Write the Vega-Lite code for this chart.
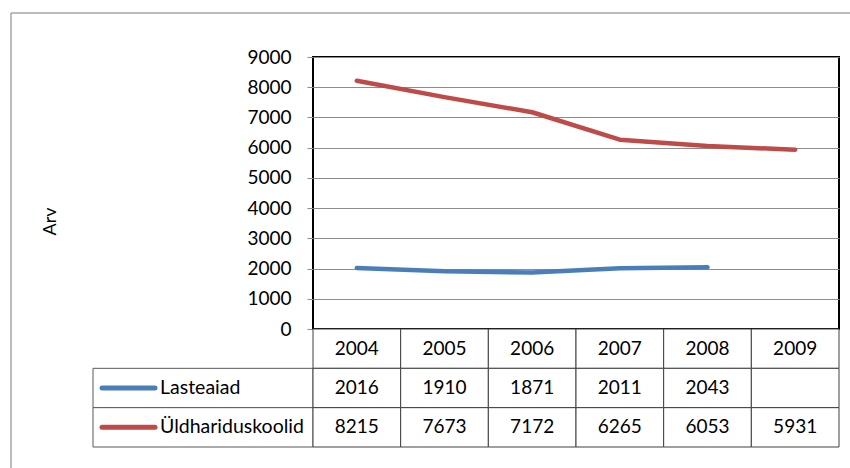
{
  "$schema": "https://vega.github.io/schema/vega-lite/v6.json",
  "background": "white",
  "padding": {"left": 10, "top": 12, "right": 0, "bottom": 0},
  "autosize": {"type": "pad"},
  "config": {
    "view": {"stroke": null},
    "font": "Lato",
    "text": {"font": "Lato"},
    "axis": {"labelFont": "Lato", "titleFont": "Lato"}
  },
  "datasets": {
    "series": [
      {"year": "2004", "series": "Lasteaiad", "value": 2016},
      {"year": "2005", "series": "Lasteaiad", "value": 1910},
      {"year": "2006", "series": "Lasteaiad", "value": 1871},
      {"year": "2007", "series": "Lasteaiad", "value": 2011},
      {"year": "2008", "series": "Lasteaiad", "value": 2043},
      {"year": "2004", "series": "Üldhariduskoolid", "value": 8215},
      {"year": "2005", "series": "Üldhariduskoolid", "value": 7673},
      {"year": "2006", "series": "Üldhariduskoolid", "value": 7172},
      {"year": "2007", "series": "Üldhariduskoolid", "value": 6265},
      {"year": "2008", "series": "Üldhariduskoolid", "value": 6053},
      {"year": "2009", "series": "Üldhariduskoolid", "value": 5931}
    ],
    "cells": [
      {"row": "header", "year": "2004", "text": "2004"},
      {"row": "header", "year": "2005", "text": "2005"},
      {"row": "header", "year": "2006", "text": "2006"},
      {"row": "header", "year": "2007", "text": "2007"},
      {"row": "header", "year": "2008", "text": "2008"},
      {"row": "header", "year": "2009", "text": "2009"},
      {"row": "Lasteaiad", "year": "2004", "text": "2016"},
      {"row": "Lasteaiad", "year": "2005", "text": "1910"},
      {"row": "Lasteaiad", "year": "2006", "text": "1871"},
      {"row": "Lasteaiad", "year": "2007", "text": "2011"},
      {"row": "Lasteaiad", "year": "2008", "text": "2043"},
      {"row": "Lasteaiad", "year": "2009", "text": ""},
      {"row": "Üldhariduskoolid", "year": "2004", "text": "8215"},
      {"row": "Üldhariduskoolid", "year": "2005", "text": "7673"},
      {"row": "Üldhariduskoolid", "year": "2006", "text": "7172"},
      {"row": "Üldhariduskoolid", "year": "2007", "text": "6265"},
      {"row": "Üldhariduskoolid", "year": "2008", "text": "6053"},
      {"row": "Üldhariduskoolid", "year": "2009", "text": "5931"}
    ],
    "legendRows": [
      {"series": "Lasteaiad"},
      {"series": "Üldhariduskoolid"}
    ]
  },
  "columns": 2,
  "spacing": 0,
  "bounds": "flush",
  "concat": [
    {
      "width": 220,
      "height": 272,
      "data": {"values": [{"frame": "chart area"}]},
      "layer": [
        {
          "mark": {"type": "rule", "stroke": "#7a7a7a", "strokeWidth": 1},
          "encoding": {"x": {"value": -82}, "x2": {"value": 758}, "y": {"value": -44}}
        },
        {
          "mark": {"type": "rule", "stroke": "#7a7a7a", "strokeWidth": 1},
          "encoding": {"x": {"value": -82}, "y": {"value": -44}, "y2": {"value": 412}}
        }
      ]
    },
    {
      "width": 526,
      "height": 272,
      "data": {"name": "series"},
      "view": {"stroke": "black", "strokeWidth": 2},
      "mark": {"type": "line", "strokeWidth": 4.5, "strokeCap": "round", "strokeJoin": "round"},
      "encoding": {
        "x": {
          "field": "year",
          "type": "ordinal",
          "scale": {"type": "point", "padding": 0.5, "domain": ["2004", "2005", "2006", "2007", "2008", "2009"]},
          "axis": null
        },
        "y": {
          "field": "value",
          "type": "quantitative",
          "scale": {"domain": [0, 9000], "nice": false},
          "axis": {
            "values": [0, 1000, 2000, 3000, 4000, 5000, 6000, 7000, 8000, 9000],
            "format": "d",
            "title": "Arv",
            "titleFontWeight": "normal",
            "titleFontSize": 18,
            "titleColor": "black",
            "titleX": -263,
            "titleY": 164,
            "titleAlign": "center",
            "titleBaseline": "middle",
            "grid": true,
            "gridColor": "#8c8c8c",
            "gridWidth": 1,
            "domain": false,
            "ticks": true,
            "tickColor": "#8c8c8c",
            "tickSize": 6,
            "labelFontSize": 19,
            "labelColor": "black",
            "labelPadding": 16
          }
        },
        "color": {
          "field": "series",
          "type": "nominal",
          "scale": {"domain": ["Lasteaiad", "Üldhariduskoolid"], "range": ["#4A7EBB", "#BE4B48"]},
          "legend": null
        }
      }
    },
    {
      "width": 220,
      "height": 118,
      "data": {"name": "legendRows"},
      "encoding": {
        "y": {
          "field": "series",
          "type": "nominal",
          "scale": {"type": "band", "domain": ["header", "Lasteaiad", "Üldhariduskoolid"], "paddingInner": 0, "paddingOuter": 0},
          "axis": null
        }
      },
      "layer": [
        {
          "mark": {"type": "rect", "fill": "white", "stroke": "#595959", "strokeWidth": 1}
        },
        {
          "mark": {"type": "rule", "strokeWidth": 5, "strokeCap": "round"},
          "encoding": {
            "x": {"value": 9},
            "x2": {"value": 62},
            "y": {"field": "series", "type": "nominal", "bandPosition": 0.5},
            "color": {
              "field": "series",
              "type": "nominal",
              "scale": {"domain": ["Lasteaiad", "Üldhariduskoolid"], "range": ["#4A7EBB", "#BE4B48"]},
              "legend": null
            }
          }
        },
        {
          "mark": {"type": "text", "align": "left", "baseline": "middle", "fontSize": 19.5, "color": "black", "font": "Lato"},
          "encoding": {
            "x": {"value": 67},
            "y": {"field": "series", "type": "nominal", "bandPosition": 0.5},
            "text": {"field": "series"}
          }
        }
      ]
    },
    {
      "width": 526,
      "height": 118,
      "data": {"name": "cells"},
      "encoding": {
        "x": {
          "field": "year",
          "type": "ordinal",
          "scale": {"type": "band", "paddingInner": 0, "paddingOuter": 0, "domain": ["2004", "2005", "2006", "2007", "2008", "2009"]},
          "axis": null
        },
        "y": {
          "field": "row",
          "type": "nominal",
          "scale": {"type": "band", "domain": ["header", "Lasteaiad", "Üldhariduskoolid"], "paddingInner": 0, "paddingOuter": 0},
          "axis": null
        }
      },
      "layer": [
        {
          "mark": {"type": "rect", "fill": "white", "stroke": "#404040", "strokeWidth": 1}
        },
        {
          "mark": {"type": "text", "align": "center", "baseline": "middle", "fontSize": 19, "color": "black", "font": "Lato"},
          "encoding": {
            "x": {"field": "year", "type": "ordinal", "bandPosition": 0.5},
            "y": {"field": "row", "type": "nominal", "bandPosition": 0.5},
            "text": {"field": "text"}
          }
        }
      ]
    }
  ]
}
